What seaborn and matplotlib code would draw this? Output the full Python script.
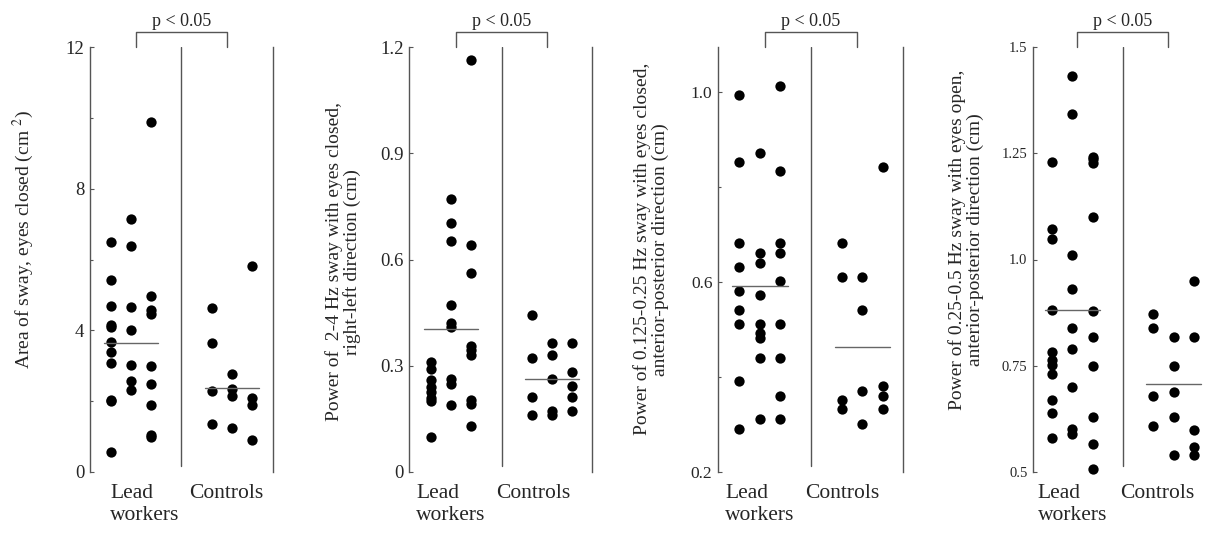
import pandas as pd
import matplotlib.pyplot as plt
import matplotlib.transforms as mtransforms
import seaborn as sns

# values (three sub-columns per group)
groups = ["Lead\nworkers", "Controls"]

area_lead = [
    [6.49, 5.41, 4.69, 4.14, 4.09, 3.67, 3.39, 3.09, 2.04, 2.0, 0.56],
    [7.13, 6.38, 4.67, 4.0, 3.01, 2.56, 2.31],
    [9.88, 4.97, 4.58, 4.47, 2.99, 2.49, 1.90, 1.05, 0.99],
]
area_ctrl = [
    [4.64, 3.64, 2.29, 1.35],
    [2.78, 2.35, 2.16, 1.25],
    [5.82, 2.10, 1.90, 0.91],
]
area_medians = [3.64, 2.37]

rl_lead = [
    [0.31, 0.29, 0.26, 0.24, 0.225, 0.21, 0.20, 0.10],
    [0.771, 0.702, 0.652, 0.472, 0.422, 0.41, 0.262, 0.248, 0.19],
    [1.163, 0.642, 0.562, 0.356, 0.345, 0.33, 0.203, 0.192, 0.131],
]
rl_ctrl = [
    [0.442, 0.322, 0.213, 0.161],
    [0.363, 0.33, 0.262, 0.173, 0.161],
    [0.363, 0.283, 0.242, 0.211, 0.171],
]
rl_medians = [0.403, 0.262]

ap_closed_lead = [
    [0.993, 0.853, 0.682, 0.632, 0.581, 0.541, 0.512, 0.392, 0.290],
    [0.872, 0.662, 0.641, 0.572, 0.512, 0.493, 0.482, 0.441, 0.311],
    [1.013, 0.833, 0.682, 0.662, 0.602, 0.512, 0.441, 0.361, 0.311],
]
ap_closed_ctrl = [
    [0.682, 0.611, 0.352, 0.332],
    [0.611, 0.541, 0.371, 0.301],
    [0.842, 0.381, 0.361, 0.332],
]
ap_closed_medians = [0.592, 0.463]

ap_open_lead = [
    [1.230, 1.071, 1.049, 0.881, 0.782, 0.763, 0.752, 0.730, 0.669, 0.640, 0.579],
    [1.432, 1.342, 1.010, 0.930, 0.840, 0.790, 0.700, 0.602, 0.589],
    [1.242, 1.236, 1.228, 1.100, 0.879, 0.818, 0.749, 0.630, 0.567, 0.506],
]
ap_open_ctrl = [
    [0.871, 0.840, 0.679, 0.608],
    [0.818, 0.749, 0.688, 0.629, 0.539],
    [0.949, 0.818, 0.598, 0.559, 0.539],
]
ap_open_medians = [0.881, 0.706]

panels = [
    dict(lead=area_lead, ctrl=area_ctrl, med=area_medians,
         label="Area of sway, eyes closed (cm $^{2}$)",
         ylim=(0, 12), major=[0, 4, 8, 12], minor=[2, 6, 10],
         ticklabels=["0", "4", "8", "12"], tsize=13.5),
    dict(lead=rl_lead, ctrl=rl_ctrl, med=rl_medians,
         label="Power of  2-4 Hz sway with eyes closed,\nright-left direction (cm)",
         ylim=(0, 1.2), major=[0, 0.3, 0.6, 0.9, 1.2], minor=[],
         ticklabels=["0", "0.3", "0.6", "0.9", "1.2"], tsize=13.5),
    dict(lead=ap_closed_lead, ctrl=ap_closed_ctrl, med=ap_closed_medians,
         label="Power of 0.125-0.25 Hz sway with eyes closed,\nanterior-posterior direction (cm)",
         ylim=(0.2, 1.095), major=[0.2, 0.6, 1.0], minor=[0.4, 0.8],
         ticklabels=["0.2", "0.6", "1.0"], tsize=12.5),
    dict(lead=ap_open_lead, ctrl=ap_open_ctrl, med=ap_open_medians,
         label="Power of 0.25-0.5 Hz sway with eyes open,\nanterior-posterior direction (cm)",
         ylim=(0.5, 1.5), major=[0.5, 0.75, 1.0, 1.25, 1.5], minor=[],
         ticklabels=["0.5", "0.75", "1.0", "1.25", "1.5"], tsize=10.5),
]

# layout in pixels: left, width, xlim, label coords, right line, group label positions
W, H = 1205, 558
boxes = [
    (90, 183, -0.406, 1.406, -0.366, 0.546, True, [0.14, 0.94]),
    (409, 183, -0.416, 1.396, -0.36, 0.495, True, [0.0, 0.81]),
    (718, 185, -0.41, 1.40, -0.362, 0.524, True, [0.0, 0.81]),
    (1033, 181, -0.39, 1.40, -0.37, 0.546, False, [0.0, 0.84]),
]
top_px, bot_px = 47, 472
sub_step = 0.2
ink = "#555555"

sns.set_theme(style="white")
plt.rcParams["font.family"] = ["Liberation Serif", "DejaVu Serif"]
plt.rcParams["mathtext.fontset"] = "stix"

fig = plt.figure(figsize=(W / 100, H / 100), dpi=100)

for p, (left, width, x0, x1, lx, ly, right_line, gpos) in zip(panels, boxes):
    ax = fig.add_axes([left / W, 1 - bot_px / H, width / W, (bot_px - top_px) / H])

    rows = []
    for g, cols in enumerate([p["lead"], p["ctrl"]]):
        for k, col in enumerate(cols):
            for v in col:
                rows.append({"x": g + (k - 1) * sub_step, "value": v})
    df = pd.DataFrame(rows)

    sns.scatterplot(data=df, x="x", y="value", ax=ax, color="black",
                    s=55, linewidth=0, legend=False, clip_on=False)

    # median bars
    for g, m in enumerate(p["med"]):
        ax.plot([g - 0.27, g + 0.27], [m, m], color="#666666", lw=1.0)

    # divider between groups
    ax.axvline(0.5, ymin=0.015, ymax=1, color=ink, lw=1.0)

    ax.set_xlim(x0, x1)
    ax.set_ylim(*p["ylim"])
    ax.set_xticks(gpos)
    ax.set_xticklabels(groups, fontsize=15.5, multialignment="left")
    ax.tick_params(axis="x", length=0, pad=9)
    ax.set_yticks(p["major"])
    ax.set_yticklabels(p["ticklabels"], fontsize=p["tsize"])
    ax.set_yticks(p["minor"], minor=True)
    ax.tick_params(axis="y", which="major", direction="in", length=3, width=0.8,
                   color=ink, pad=4, left=True)
    ax.tick_params(axis="y", which="minor", direction="in", length=2, width=0.8,
                   color=ink, left=True)
    ax.set_xlabel("")
    ax.set_ylabel(p["label"], fontsize=14, va="center", ha="center", linespacing=1.05)
    ax.yaxis.set_label_coords(lx, ly)

    for side in ["top", "bottom"]:
        ax.spines[side].set_visible(False)
    ax.spines["left"].set_color(ink)
    ax.spines["left"].set_linewidth(1.0)
    ax.spines["right"].set_visible(right_line)
    ax.spines["right"].set_color(ink)
    ax.spines["right"].set_linewidth(1.0)

    # significance bracket above the axes
    trans = mtransforms.blended_transform_factory(ax.transData, ax.transAxes)
    bx0, bx1, btop = 0.05, 0.95, 1.036
    ax.plot([bx0, bx0, bx1, bx1], [1.0, btop, btop, 1.0], color=ink, lw=1.0,
            transform=trans, clip_on=False)
    ax.text((bx0 + bx1) / 2, btop + 0.004, "p < 0.05", transform=trans,
            ha="center", va="bottom", fontsize=13)

fig.savefig("out.png", dpi=100)
